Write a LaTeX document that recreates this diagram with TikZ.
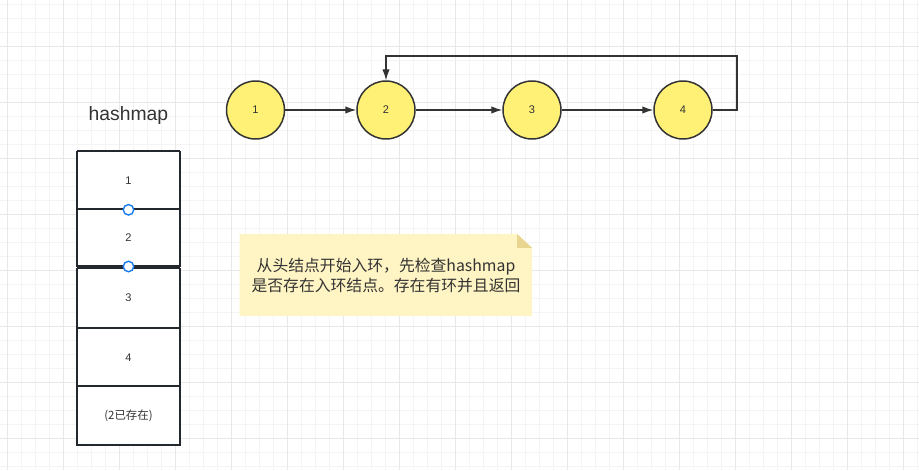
\documentclass[tikz,border=0pt]{standalone}
\usepackage{fontspec}
\setmainfont{Liberation Sans}
\newfontfamily\cjk{Noto Sans CJK SC}
\usetikzlibrary{arrows.meta}
\definecolor{ink}{HTML}{333333}
\definecolor{ringfill}{HTML}{FFF176}
\definecolor{notefill}{HTML}{FFF4C3}
\definecolor{foldfill}{HTML}{E8D590}
\definecolor{cellline}{HTML}{23282F}
\definecolor{handle}{HTML}{1A7BF0}
\definecolor{gridmin}{HTML}{F4F4F4}
\definecolor{gridmaj}{HTML}{E8E8E8}

\begin{document}
\begin{tikzpicture}[x=0.02cm,y=-0.02cm,>=Latex,
  ring/.style={draw=ink,line width=0.85pt,fill=ringfill,circle,minimum size=1.16cm,inner sep=0pt,font=\fontsize{6.3}{7}\selectfont,text=ink},
  cell/.style={draw=cellline,line width=0.8pt,fill=white,minimum width=2.054cm,inner sep=0pt,outer sep=0pt,font=\fontsize{6.3}{7}\selectfont,text=ink},
  divider/.style={draw=cellline,line width=1.2pt},
  link/.style={draw=ink,line width=0.7pt,-{Latex[length=2.2mm,width=1.5mm]}},
  dot/.style={circle,draw=handle,fill=white,line width=0.8pt,minimum size=0.21cm,inner sep=0pt}]
\useasboundingbox (0,0) rectangle (919,470);
% background grid
\foreach \i in {0,...,65} \draw[gridmin,line width=0.55pt] (7.7+14*\i,0)--(7.7+14*\i,470);
\foreach \j in {0,...,33} \draw[gridmin,line width=0.55pt] (0,4.7+14*\j)--(919,4.7+14*\j);
\foreach \i in {0,...,16} \draw[gridmaj,line width=0.6pt] (7.7+56*\i,0)--(7.7+56*\i,470);
\foreach \j in {0,...,7} \draw[gridmaj,line width=0.6pt] (0,46.7+56*\j)--(919,46.7+56*\j);
% linked list
\node[ring] (n1) at (255.5,110) {1};
\node[ring] (n2) at (386,110) {2};
\node[ring] (n3) at (532,110) {3};
\node[ring] (n4) at (683,110) {4};
\coordinate (loop) at (737,56);
\draw[link] (n1.east)--(n2.west);
\draw[link] (n2.east)--(n3.west);
\draw[link] (n3.east)--(n4.west);
\draw[link] (n4.east)-|(loop)-|(n2.north);
% hashmap column
\node[text=ink,font=\fontsize{11}{13}\selectfont] (title) at (128.5,116) {hashmap};
\node[cell,minimum height=1.172cm] (h1) at (128.5,180.5) {1};
\node[cell,minimum height=1.13cm] (h2) at (128.5,237.55) {2};
\node[cell,minimum height=1.188cm] (h3) at (128.5,298) {3};
\node[cell,minimum height=1.18cm] (h4) at (128.5,357.7) {4};
\node[cell,minimum height=1.18cm,font=\cjk\fontsize{6.5}{7}\selectfont] (h5) at (128.5,415.7) {(2已存在)};
\foreach \c in {h1,h2,h3,h4,h5}
  \draw[divider] (\c.north west)--(\c.north east);
\draw[divider] (h2.south west)--(h2.south east);
\draw[divider] (h5.south west)--(h5.south east);
\node[dot] (d1) at (h1.south) {};
\node[dot] (d2) at (128.5,266.5) {};
% note
\node[minimum width=5.834cm,minimum height=1.628cm,inner sep=0pt] (note) at (385.9,275) {};
\fill[notefill] (note.south west)--(note.north west)--([xshift=-0.3cm]note.north east)--([yshift=-0.28cm]note.north east)--(note.south east)--cycle;
\fill[foldfill] ([xshift=-0.3cm]note.north east)--([xshift=-0.3cm,yshift=-0.28cm]note.north east)--([yshift=-0.28cm]note.north east)--cycle;
\node[align=center,text=ink,font=\cjk\fontsize{9}{11.8}\selectfont] (notetext) at (386,275.4) {从头结点开始入环，先检查hashmap\\是否存在入环结点。存在有环并且返回};
\end{tikzpicture}
\end{document}
